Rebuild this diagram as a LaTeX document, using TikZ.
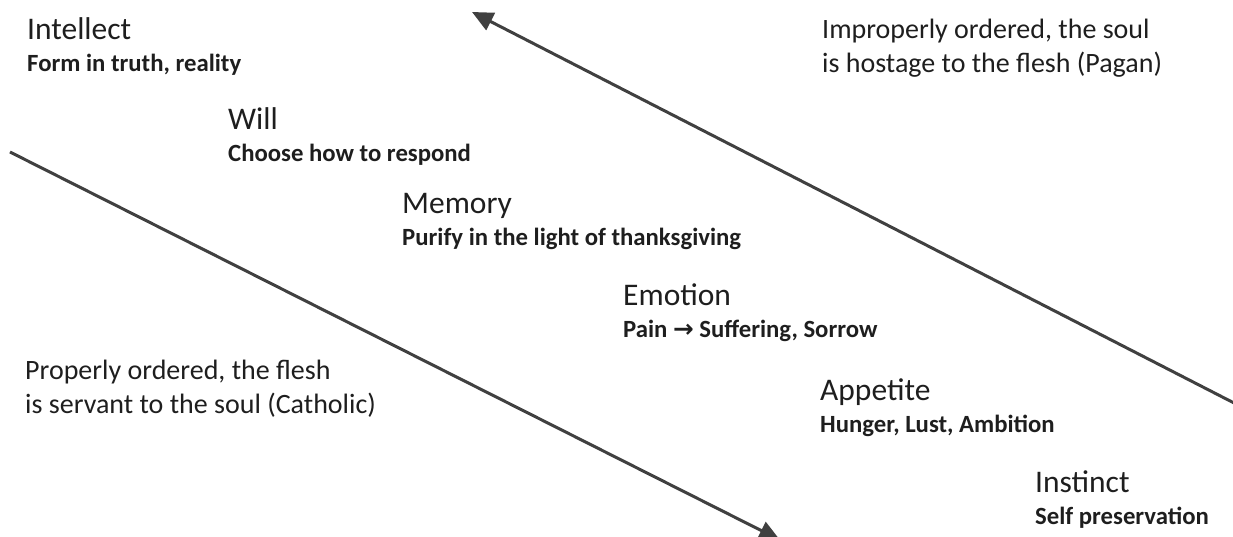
\documentclass[tikz,border=0pt]{standalone}
\usepackage{fontspec}
\setmainfont{Carlito}
\newfontfamily\arrowfont{DejaVu Sans}
\usetikzlibrary{arrows.meta,positioning}
\definecolor{inkgray}{HTML}{1E1E1E}
\definecolor{arrowgray}{HTML}{404040}
\tikzset{
     level title/.style = {anchor=base west, inner sep=0pt, text=inkgray,
                           font=\fontsize{31.5}{38}\selectfont},
     level sub/.style   = {anchor=base west, inner sep=0pt, text=inkgray,
                           font=\fontsize{24.75}{30}\selectfont\bfseries},
     side note/.style   = {anchor=base west, inner sep=0pt, text=inkgray, align=left,
                           font=\fontsize{28}{34}\selectfont},
     order arrow/.style = {draw=arrowgray, line width=3pt,
                           -{Triangle[length=21pt,width=19pt]}},
    }

\begin{document}
\begin{tikzpicture}[x=1pt,y=-1pt]
        \useasboundingbox (0,0) rectangle (1233,537);
        \clip (0,0) rectangle (1233,537);

        % the levels of the soul, top to bottom
        \foreach \name/\x/\y/\title/\sub in {
            intellect/27/40/Intellect/{Form in truth, reality},
            will/228/130/Will/{Choose how to respond},
            memory/402/214/Memory/{Purify in the light of thanksgiving},
            emotion/623/305/Emotion/{Pain {\arrowfont →} Suffering, Sorrow},
            appetite/820/400/Appetite/{Hunger, Lust, Ambition},
            instinct/1035/492/Instinct/{Self preservation}}
        {
            \node [level title] (\name) at (\x,\y) {\title};
            \node [level sub] (\name-sub) at ([yshift=-32pt]\name.base west) {\sub};
        }

        \node [side note] (proper)   at (25,413) {Properly ordered, the flesh\\is servant to the soul (Catholic)};
        \node [side note] (improper) at (822,73) {Improperly ordered, the soul\\is hostage to the flesh (Pagan)};

        \coordinate (down tail) at (10,152);
        \coordinate (down tip)  at (780,540);
        \coordinate (up tail)   at (1236,404);
        \coordinate (up tip)    at (472,12);

        \draw [order arrow] (down tail) -- (down tip);
        \draw [order arrow] (up tail) -- (up tip);
    \end{tikzpicture}
\end{document}
